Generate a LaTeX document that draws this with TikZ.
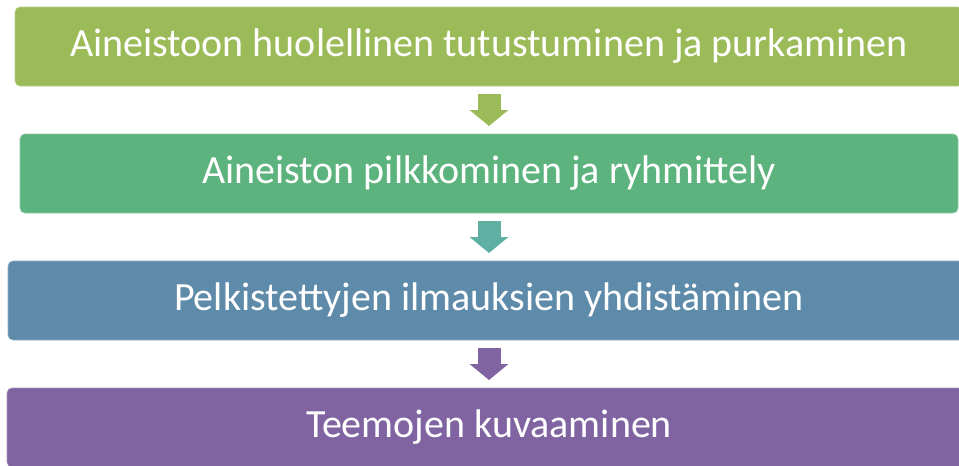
\documentclass[tikz,border=0pt]{standalone}
\usepackage{fontspec}
\setmainfont{Carlito}
\usetikzlibrary{positioning,arrows.meta}

\definecolor{olive1}{HTML}{9BBB59}
\definecolor{green1}{HTML}{5CB37D}
\definecolor{teal1}{HTML}{5DB0A2}
\definecolor{blue1}{HTML}{5F8BAB}
\definecolor{purple1}{HTML}{8064A2}

\begin{document}
\begin{tikzpicture}[stepbox/.style = {fill=#1, draw=#1!70!white, line width=0.6pt, rounded corners=5pt, text=white, minimum height=79pt, inner sep=0pt, outer sep=0pt, font=\fontsize{40}{48}\selectfont},
        flow/.style = {line width=23pt, draw=#1, -{Triangle[width=38pt,length=16pt]}},
        node distance={48pt}]
        \useasboundingbox (0,0) rectangle (959pt,-466pt);
        \node[stepbox=olive1, minimum width=948pt] (1) at (489pt,-46.5pt) {Aineistoon huolellinen tutustuminen ja purkaminen};
        \node[stepbox=green1, minimum width=938pt] (2) [below=of 1] {Aineiston pilkkominen ja ryhmittely};
        \node[stepbox=blue1, minimum width=962pt] (3) [below=of 2] {Pelkistettyjen ilmauksien yhdistäminen};
        \node[stepbox=purple1, minimum width=964pt] (4) [below=of 3] {Teemojen kuvaaminen};
        \draw[flow=olive1] ([yshift=-8pt]1.south) -- ([yshift=8pt]2.north);
        \draw[flow=teal1] ([yshift=-8pt]2.south) -- ([yshift=8pt]3.north);
        \draw[flow=purple1] ([yshift=-8pt]3.south) -- ([yshift=8pt]4.north);
\end{tikzpicture}
\end{document}
